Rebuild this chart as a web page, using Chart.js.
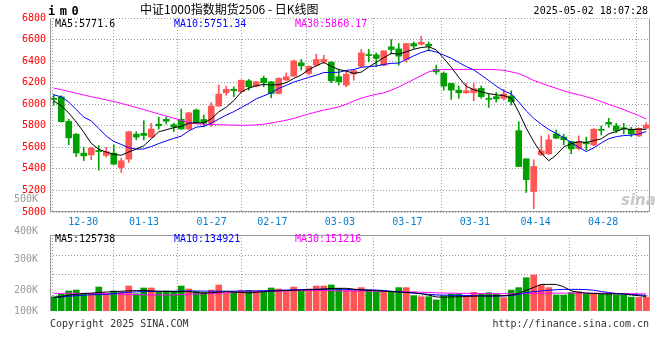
<!DOCTYPE html>
<html>
<head>
<meta charset="utf-8">
<script src="https://cdn.jsdelivr.net/npm/chart.js@4.4.1/dist/chart.umd.min.js"></script>
<style>
  html, body { margin: 0; padding: 0; background: #fff; }
  #wrap { position: relative; width: 660px; height: 360px; overflow: hidden; font-family: 'DejaVu Sans Mono', monospace; }
  #wrap canvas { position: absolute; left: 0; }
  #kline { top: 0; }
  #vol { top: 190px; }
  .t { position: absolute; white-space: pre; font-size: 10px; line-height: 12px; z-index: 2; }
  .code { left: 48px; top: 4px; font-size: 12px; font-weight: bold; letter-spacing: 4.5px; line-height: 14px; }
  .title { left: 140px; top: 2px; font-family: 'Noto Sans CJK SC', sans-serif; font-size: 12px; line-height: 14px; }
  .stamp { right: 12px; top: 5px; }
  .foot { top: 318px; color: #333; }
  .logo { left: 621px; top: 194px; font-family: 'DejaVu Sans', sans-serif; font-size: 15px; font-weight: bold; font-style: italic; color: #c8c8c8; z-index: 0; }
</style>
</head>
<body>
<div id="wrap">
  <canvas id="kline" width="660" height="232"></canvas>
  <canvas id="vol" width="660" height="150"></canvas>

  <div class="t code">im0</div>
  <div class="t title">中证1000指数期货2506 - 日K线图</div>
  <div class="t stamp">2025-05-02 18:07:28</div>

  <div class="t" style="left:55px; top:18px; color:#000;">MA5:5771.6</div>
  <div class="t" style="left:174px; top:18px; color:#0000ff;">MA10:5751.34</div>
  <div class="t" style="left:295px; top:18px; color:#ff00ff;">MA30:5860.17</div>

  <div class="t" style="left:55px; top:233px; color:#000;">MA5:125738</div>
  <div class="t" style="left:174px; top:233px; color:#0000ff;">MA10:134921</div>
  <div class="t" style="left:295px; top:233px; color:#ff00ff;">MA30:151216</div>

  <div class="t logo">sina</div>
  <div class="t foot" style="left:50px;">Copyright 2025 SINA.COM</div>
  <div class="t foot" style="right:11px;">http://finance.sina.com.cn</div>
</div>

<script>
// ---- data ----
const dates = [
  '12-30','12-31','01-02','01-03','01-06','01-07','01-08','01-09','01-10','01-13',
  '01-14','01-15','01-16','01-17','01-20','01-21','01-22','01-23','01-24','01-27',
  '02-05','02-06','02-07','02-10','02-11','02-12','02-13','02-14','02-17','02-18',
  '02-19','02-20','02-21','02-24','02-25','02-26','02-27','02-28','03-03','03-04',
  '03-05','03-06','03-07','03-10','03-11','03-12','03-13','03-14','03-17','03-18',
  '03-19','03-20','03-21','03-24','03-25','03-26','03-27','03-28','03-31','04-01',
  '04-02','04-03','04-07','04-08','04-09','04-10','04-11','04-14','04-15','04-16',
  '04-17','04-18','04-21','04-22','04-23','04-24','04-25','04-28','04-29','04-30'
];

const openP = [
  6055, 6068, 5840, 5722, 5546, 5530, 5570, 5525, 5546, 5413,
  5490, 5722, 5730, 5695, 5815, 5860, 5810, 5860, 5770, 5946,
  5858, 5825, 5983, 6106, 6138, 6116, 6217, 6168, 6240, 6208,
  6100, 6225, 6261, 6384, 6286, 6362, 6393, 6390, 6255, 6177,
  6280, 6353, 6461, 6458, 6362, 6532, 6513, 6415, 6563, 6557,
  6557, 6323, 6286, 6193, 6131, 6106, 6106, 6147, 6054, 6070,
  6054, 6076, 5755, 5493, 5190, 5530, 5539, 5724, 5694, 5653,
  5588, 5645, 5622, 5765, 5832, 5798, 5780, 5768, 5706, 5777
];
const highP = [
  6090, 6078, 5860, 5728, 5601, 5601, 5616, 5600, 5622, 5500,
  5750, 5745, 5847, 5823, 5880, 5880, 5825, 5955, 5925, 5955,
  5900, 6015, 6178, 6168, 6162, 6225, 6230, 6212, 6261, 6212,
  6245, 6291, 6410, 6415, 6355, 6464, 6455, 6395, 6323, 6314,
  6323, 6508, 6508, 6476, 6498, 6600, 6563, 6565, 6578, 6631,
  6578, 6362, 6300, 6195, 6168, 6193, 6193, 6170, 6094, 6110,
  6138, 6125, 5838, 5495, 5484, 5705, 5715, 5761, 5720, 5660,
  5706, 5694, 5775, 5798, 5869, 5823, 5823, 5786, 5780, 5829
];
const lowP = [
  5990, 5835, 5625, 5515, 5477, 5484, 5388, 5510, 5440, 5366,
  5460, 5670, 5668, 5690, 5768, 5815, 5746, 5768, 5765, 5820,
  5790, 5792, 5980, 6082, 6070, 6112, 6131, 6160, 6162, 6060,
  6095, 6217, 6258, 6317, 6270, 6353, 6378, 6200, 6178, 6162,
  6223, 6347, 6393, 6347, 6355, 6465, 6362, 6390, 6517, 6548,
  6495, 6279, 6131, 6045, 6054, 6100, 6032, 6055, 5971, 6020,
  6039, 5992, 5420, 5181, 5031, 5525, 5535, 5680, 5622, 5540,
  5576, 5576, 5615, 5715, 5786, 5736, 5724, 5700, 5700, 5775
];
const closeP = [
  6045, 5838, 5688, 5548, 5521, 5592, 5560, 5560, 5444, 5475,
  5745, 5695, 5710, 5770, 5800, 5842, 5790, 5770, 5920, 5825,
  5825, 5983, 6094, 6138, 6126, 6223, 6162, 6208, 6199, 6100,
  6240, 6255, 6402, 6356, 6353, 6415, 6415, 6217, 6208, 6279,
  6310, 6476, 6452, 6425, 6495, 6508, 6446, 6563, 6540, 6575,
  6540, 6300, 6168, 6131, 6106, 6125, 6143, 6070, 6045, 6050,
  6094, 6023, 5422, 5300, 5422, 5567, 5669, 5685, 5670, 5585,
  5653, 5632, 5768, 5758, 5815, 5755, 5772, 5724, 5777, 5807
];

const ma5 = [
  6030, 5985, 5920, 5835, 5740, 5637, 5582, 5556, 5535, 5526,
  5557, 5584, 5614, 5679, 5744, 5763, 5782, 5794, 5824, 5829,
  5826, 5865, 5929, 5973, 6033, 6113, 6149, 6171, 6184, 6178,
  6182, 6200, 6239, 6271, 6321, 6356, 6388, 6351, 6322, 6307,
  6286, 6298, 6345, 6388, 6432, 6471, 6465, 6487, 6510, 6526,
  6533, 6504, 6425, 6343, 6249, 6166, 6135, 6115, 6098, 6087,
  6080, 6056, 5927, 5778, 5652, 5547, 5476, 5529, 5603, 5635,
  5652, 5645, 5662, 5679, 5725, 5746, 5774, 5765, 5769, 5767
];
const ma10 = [
  6088, 6068, 6020, 5950, 5880, 5845, 5775, 5705, 5655, 5627,
  5597, 5583, 5585, 5607, 5635, 5660, 5683, 5704, 5752, 5787,
  5795, 5824, 5862, 5899, 5931, 5969, 6007, 6050, 6078, 6106,
  6147, 6175, 6205, 6227, 6250, 6269, 6294, 6295, 6296, 6314,
  6321, 6343, 6348, 6355, 6369, 6379, 6382, 6416, 6449, 6479,
  6502, 6484, 6456, 6427, 6388, 6349, 6319, 6270, 6220, 6168,
  6123, 6096, 6021, 5938, 5869, 5814, 5766, 5728, 5690, 5644,
  5600, 5561, 5595, 5641, 5680, 5699, 5709, 5713, 5724, 5746
];
const ma30 = [
  6150, 6135, 6118, 6102, 6086, 6070, 6055, 6040, 6025, 6008,
  5990, 5970, 5950, 5930, 5910, 5890, 5870, 5850, 5830, 5818,
  5815, 5812, 5810, 5808, 5806, 5804, 5805, 5808, 5814, 5825,
  5838, 5852, 5868, 5890, 5910, 5928, 5945, 5960, 5975, 6000,
  6030, 6055, 6075, 6092, 6106, 6130, 6160, 6195, 6230, 6265,
  6300, 6318, 6322, 6323, 6323, 6323, 6323, 6323, 6323, 6320,
  6315, 6300, 6285, 6255, 6220, 6195, 6170, 6148, 6125, 6105,
  6088, 6070, 6048, 6025, 5998, 5975, 5950, 5922, 5895, 5862
];

const volume = [
  124000, 145000, 174000, 182000, 153000, 153000, 208000, 150000, 174000, 165000,
  217000, 150000, 200000, 200000, 162000, 174000, 168000, 217000, 191000, 168000,
  162000, 182000, 226000, 156000, 168000, 179000, 179000, 174000, 174000, 200000,
  191000, 168000, 208000, 171000, 191000, 217000, 217000, 226000, 197000, 182000,
  182000, 203000, 182000, 168000, 177000, 168000, 203000, 203000, 133000, 124000,
  124000, 96000, 133000, 148000, 148000, 133000, 162000, 148000, 159000, 148000,
  116000, 182000, 203000, 289000, 313000, 226000, 203000, 139000, 139000, 159000,
  168000, 148000, 148000, 148000, 148000, 139000, 139000, 120000, 118000, 120000
];
const volMa5 = [
  118000, 127000, 137000, 145000, 152000, 155000, 160000, 165000, 168000, 172000,
  175000, 177000, 178000, 175000, 172000, 169000, 168000, 168000, 168000, 162000,
  155000, 158000, 163000, 168000, 165000, 160000, 157000, 162000, 168000, 172000,
  176000, 177000, 180000, 182000, 184000, 186000, 190000, 196000, 197000, 197000,
  190000, 183000, 180000, 176000, 172000, 168000, 165000, 162000, 158000, 150000,
  138000, 122000, 120000, 122000, 124000, 126000, 128000, 130000, 130000, 132000,
  133000, 138000, 153000, 180000, 205000, 231000, 231000, 231000, 210000, 175000,
  162000, 155000, 152000, 150000, 149000, 148000, 147000, 140000, 133000, 126000
];
const volMa10 = [
  116000, 122000, 128000, 133000, 138000, 141000, 143000, 145000, 150000, 158000,
  163000, 166000, 168000, 169000, 170000, 171000, 172000, 173000, 174000, 174000,
  173000, 172000, 172000, 172000, 172000, 173000, 174000, 175000, 176000, 178000,
  180000, 182000, 184000, 186000, 187000, 189000, 190000, 191000, 190000, 188000,
  186000, 184000, 183000, 182000, 178000, 172000, 167000, 160000, 155000, 150000,
  145000, 140000, 138000, 137000, 136000, 135000, 134000, 132000, 130000, 130000,
  130000, 135000, 145000, 160000, 168000, 174000, 180000, 185000, 188000, 188000,
  188000, 186000, 180000, 170000, 160000, 152000, 148000, 145000, 140000, 135000
];
const volMa30 = [
  153000, 153000, 153000, 153000, 153000, 153000, 153000, 153000, 150000, 146000,
  144000, 142000, 141000, 140000, 139000, 139000, 141000, 143000, 146000, 148000,
  150000, 152000, 155000, 158000, 160000, 162000, 164000, 166000, 168000, 170000,
  172000, 174000, 176000, 177000, 178000, 179000, 178000, 176000, 175000, 174000,
  174000, 174000, 173000, 172000, 171000, 169000, 167000, 166000, 165000, 163000,
  162000, 158000, 156000, 155000, 154000, 153000, 153000, 152000, 151000, 150000,
  150000, 150000, 151000, 152000, 153000, 154000, 154000, 155000, 155000, 156000,
  156000, 155000, 155000, 154000, 153000, 152000, 151000, 150000, 149000, 148000
];

// date labels shown under the price panel (indices into dates)
const labelIdx = [0, 9, 19, 28, 38, 48, 58, 67, 77];
// volume axis labels as printed on the original
const volTickVals = [0, 175000, 445000, 690000, 965000];
const volTickLabels = ['100K', '200K', '300K', '400K', '500K'];
const volMax = 660000;

// ---- styling ----
const UP = '#ff5555';
const DOWN = '#00a000';
const GRID = '#9a9a9a';
const isUp = i => closeP[i] >= openP[i];
const candleColor = c => isUp(c.dataIndex) ? UP : DOWN;

Chart.defaults.font.family = "'DejaVu Sans Mono', monospace";
Chart.defaults.font.size = 10;

/* --- plot frame (solid sides) --- */
const panelFrame = {
    id: 'panelFrame',
    afterDraw(chart, args, opts) {
        const { ctx, chartArea } = chart;
        const l = Math.round(chartArea.left) + 0.5;
        const r = Math.round(chartArea.right) - 0.5;
        const t = Math.round(chartArea.top) + 0.5;
        const b = Math.round(chartArea.bottom) - 0.5;
        ctx.save();
        ctx.strokeStyle = '#999';
        ctx.lineWidth = 1;
        ctx.beginPath();
        if (opts.sides.includes('top')) { ctx.moveTo(l, t); ctx.lineTo(r, t); }
        if (opts.sides.includes('bottom')) { ctx.moveTo(l, b); ctx.lineTo(r, b); }
        if (opts.sides.includes('left')) { ctx.moveTo(l, t); ctx.lineTo(l, b); }
        if (opts.sides.includes('right')) { ctx.moveTo(r, t); ctx.lineTo(r, b); }
        ctx.stroke();
        ctx.restore();
    }
};

const maLine = (data, color, yId) => ({
    type: 'line', data, borderColor: color, borderWidth: 1,
    pointRadius: 0, tension: 0, order: 0, xAxisID: 'x', yAxisID: yId
});

const dateGrid = (showLabels) => ({
    type: 'linear', position: 'bottom', min: 0, max: dates.length - 1,
    afterBuildTicks: s => { s.ticks = labelIdx.map(v => ({ value: v })); },
    afterFit: s => { s.height = showLabels ? 20 : 0; },
    grid: { color: GRID, drawTicks: false },
    border: { display: false, dash: [1, 2] },
    ticks: {
        display: showLabels, color: '#0a80d0', padding: 4,
        autoSkip: false, maxRotation: 0,
        callback: v => dates[v]
    }
});

/* --- price panel --- */
new Chart(document.getElementById('kline'), {
    type: 'bar',
    data: {
        labels: dates,
        datasets: [
            maLine(ma5, '#000000', 'y'),
            maLine(ma10, '#0000ff', 'y'),
            maLine(ma30, '#ff00ff', 'y'),
            {
                data: dates.map((d, i) => [openP[i], closeP[i]]),
                backgroundColor: candleColor,
                barThickness: 6, minBarLength: 1, grouped: false,
                order: 1, xAxisID: 'x', yAxisID: 'y'
            },
            {
                data: dates.map((d, i) => [lowP[i], highP[i]]),
                backgroundColor: candleColor,
                barThickness: 1, grouped: false,
                order: 2, xAxisID: 'x', yAxisID: 'y'
            }
        ]
    },
    options: {
        responsive: false,
        animation: false,
        devicePixelRatio: 1,
        layout: { padding: { top: 18, right: 10, left: 0, bottom: 0 } },
        plugins: {
            legend: { display: false },
            tooltip: { enabled: false },
            panelFrame: { sides: ['left', 'right', 'bottom'] }
        },
        scales: {
            x: { type: 'category', display: false, offset: true },
            xg: dateGrid(true),
            y: {
                position: 'left', min: 5000, max: 6800,
                afterFit: s => { s.width = 50; },
                grid: { color: GRID, drawTicks: false },
                border: { display: false, dash: [1, 2] },
                ticks: { stepSize: 200, color: '#ff0000', padding: 4, callback: v => String(v) }
            }
        }
    },
    plugins: [panelFrame]
});

/* --- volume panel --- */
new Chart(document.getElementById('vol'), {
    type: 'bar',
    data: {
        labels: dates,
        datasets: [
            maLine(volMa5, '#000000', 'yv'),
            maLine(volMa10, '#0000ff', 'yv'),
            maLine(volMa30, '#ff00ff', 'yv'),
            {
                data: volume,
                backgroundColor: candleColor,
                barThickness: 6, grouped: false,
                order: 1, xAxisID: 'x', yAxisID: 'yv'
            }
        ]
    },
    options: {
        responsive: false,
        animation: false,
        devicePixelRatio: 1,
        layout: { padding: { top: 45, right: 10, left: 0, bottom: 29 } },
        plugins: {
            legend: { display: false },
            tooltip: { enabled: false },
            panelFrame: { sides: ['top', 'left', 'right'] }
        },
        scales: {
            x: { type: 'category', display: false, offset: true },
            xg: dateGrid(false),
            yv: {
                position: 'left', min: 0, max: volMax,
                afterBuildTicks: s => {
                    s.ticks = [0.2632, 0.5263, 0.7895].map(f => ({ value: volMax * (1 - f) }));
                },
                afterFit: s => { s.width = 0; },
                grid: { color: GRID, drawTicks: false },
                border: { display: false, dash: [1, 2] },
                ticks: { display: false }
            },
            yl: {
                position: 'left', min: 0, max: volMax,
                afterBuildTicks: s => { s.ticks = volTickVals.map(v => ({ value: v })); },
                afterFit: s => { s.width = 50; },
                grid: { display: false },
                border: { display: false },
                ticks: {
                    color: '#999999', padding: 4, autoSkip: false,
                    callback: (v, i) => volTickLabels[i]
                }
            }
        }
    },
    plugins: [panelFrame]
});
</script>
</body>
</html>
